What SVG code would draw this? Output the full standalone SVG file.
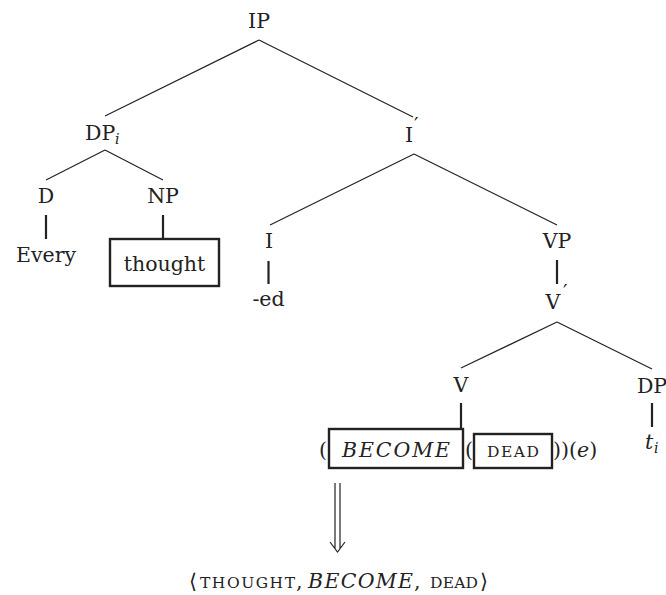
<svg xmlns="http://www.w3.org/2000/svg" width="666" height="595" viewBox="0 0 666 595">
<style>
text{font-family:"DejaVu Serif","Liberation Serif",serif;font-size:20.5px;fill:#222}
.c{text-anchor:middle}
.it{font-style:italic}
.sc{font-size:15.5px}
.sub{font-size:14px;font-style:italic}
.pr{font-size:20px}
.e{stroke:#222;stroke-width:1.2;fill:none}
.t{stroke:#222;stroke-width:2.2;fill:none}
.box{stroke:#222;stroke-width:2.4;fill:none}
</style>
<rect width="666" height="595" fill="#fff"/>
<g id="connectors">
<path class="e" d="M259,40L105,116M259,40L413,117"/>
<path class="e" d="M105,150L46,180M105,150L163,180"/>
<path class="e" d="M414,154L270,225M414,154L557,225"/>
<path class="e" d="M557,322L461,368M557,322L652,369"/>
<path class="t" d="M46,215V239M163,215V239"/>
<path class="t" d="M268.5,261V284"/>
<path class="t" d="M557,260V284"/>
<path class="t" d="M461,403V429M652,403V427"/>
<path class="e" d="M335,483V549M340,483V549M330,542L337.5,552L345,542"/>
</g>
<g id="IP"><text class="c" x="259" y="28">IP</text></g>
<g id="DPi"><text x="85" y="140">DP</text><text class="sub" x="115" y="144">i</text></g>
<g id="Ibar"><text class="c" x="409" y="142">I</text><text class="pr" x="414" y="132">′</text></g>
<g id="D"><text class="c" x="46" y="203">D</text></g>
<g id="NP"><text class="c" x="163" y="203">NP</text></g>
<g id="Every"><text class="c" x="46" y="262">Every</text></g>
<g id="thought"><rect class="box" x="110" y="239" width="109" height="47"/><text class="c" x="164.5" y="271">thought</text></g>
<g id="I"><text class="c" x="269" y="248">I</text></g>
<g id="VP"><text class="c" x="557" y="248">VP</text></g>
<g id="ed"><text class="c" x="268.5" y="306">-ed</text></g>
<g id="Vbar"><text class="c" x="553" y="309">V</text><text class="pr" x="563" y="299">′</text></g>
<g id="V"><text class="c" x="461" y="392">V</text></g>
<g id="DP"><text class="c" x="652" y="393">DP</text></g>
<g id="ti"><text class="it" x="645" y="449">t</text><text class="sub" x="654" y="453">i</text></g>
<g id="expr">
<text x="319" y="457">(</text>
<rect class="box" x="329" y="429" width="134" height="39"/>
<text class="it" x="342" y="457" textLength="108" lengthAdjust="spacing">BECOME</text>
<text x="465" y="457">(</text>
<rect class="box" x="474" y="434" width="78" height="34"/>
<text class="sc" x="487" y="457" textLength="52" lengthAdjust="spacing">DEAD</text>
<text x="553" y="457">))(<tspan class="it">e</tspan>)</text>
</g>
<g id="result">
<text x="189" y="588">⟨</text>
<text class="sc" x="200" y="588" textLength="95" lengthAdjust="spacing">THOUGHT</text>
<text x="296" y="588">,</text>
<text class="it" x="308" y="588" textLength="105" lengthAdjust="spacing">BECOME</text>
<text x="414" y="588">,</text>
<text class="sc" x="430" y="588" textLength="48" lengthAdjust="spacing">DEAD</text>
<text x="480" y="588">⟩</text>
</g>
</svg>
